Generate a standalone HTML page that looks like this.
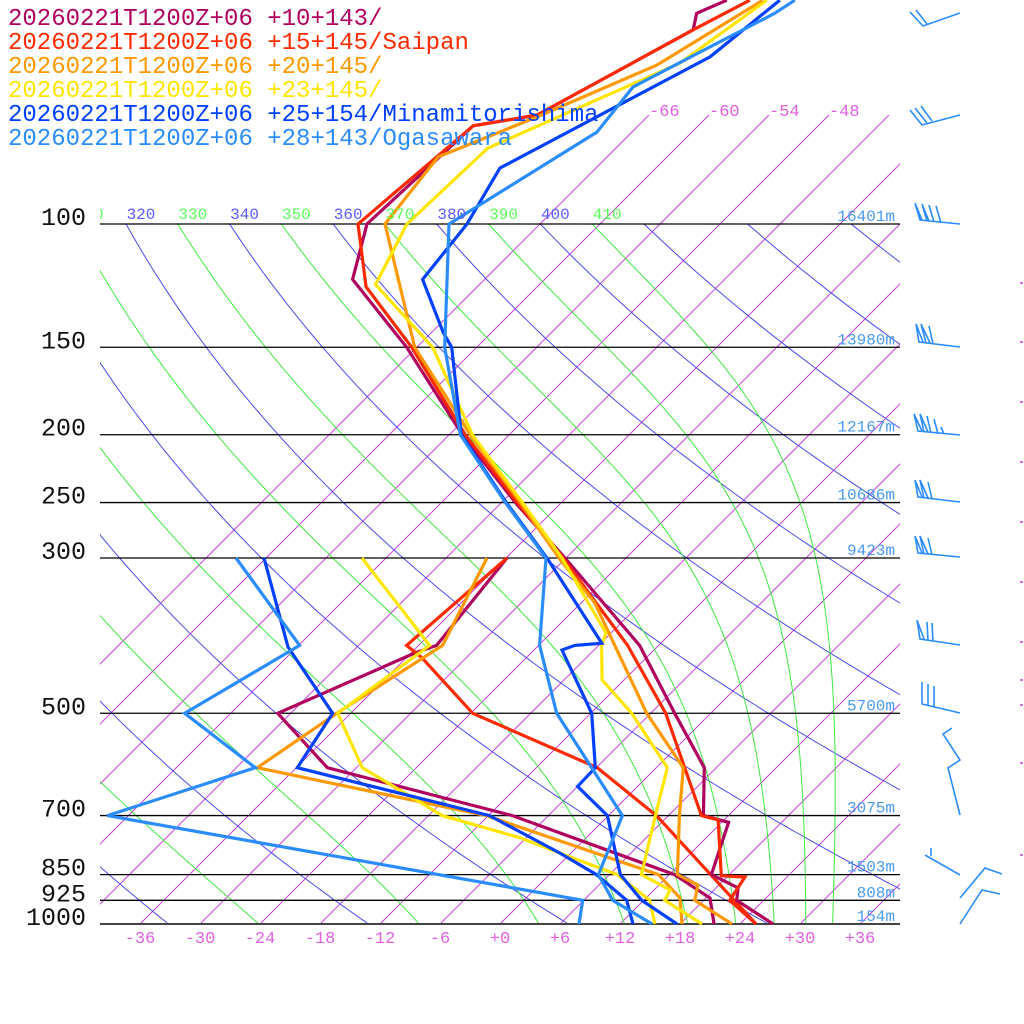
<!DOCTYPE html>
<html><head><meta charset="utf-8">
<style>
html,body{margin:0;padding:0;background:#fff;}
svg{display:block;}
text{font-family:"Liberation Mono",monospace;}
</style></head>
<body>
<svg id="chart" width="1024" height="1024" viewBox="0 0 1024 1024" xmlns="http://www.w3.org/2000/svg">
<defs>
<clipPath id="clipIso"><rect x="100" y="115" width="800" height="809"/></clipPath>
<clipPath id="clipAd"><rect x="100" y="224" width="800" height="700"/></clipPath>
<clipPath id="clipLab"><rect x="100" y="190" width="800" height="40"/></clipPath>
<clipPath id="clipProf"><rect x="0" y="0" width="900" height="925"/></clipPath>
</defs>
<g id="grid"></g>
<g id="profiles" clip-path="url(#clipProf)"></g>
<g id="labels"></g>
<g id="legend" font-size="24">
<text x="8" y="25" fill="#b0005e">20260221T1200Z+06 +10+143/</text>
<text x="8" y="49" fill="#ff2a00">20260221T1200Z+06 +15+145/Saipan</text>
<text x="8" y="73" fill="#ff9900">20260221T1200Z+06 +20+145/</text>
<text x="8" y="97" fill="#ffe600">20260221T1200Z+06 +23+145/</text>
<text x="8" y="121" fill="#0040ff">20260221T1200Z+06 +25+154/Minamitorishima</text>
<text x="8" y="145" fill="#2a8cff">20260221T1200Z+06 +28+143/Ogasawara</text>
</g>
<g id="barbs" stroke="#2a8cff" stroke-width="1.6" fill="none">
<path d="M960,13 L923,26 L910,12 M927,24 L916,10"/>
<path d="M960,115 L922,125 L910,110 M927,123 L915,108 M932,121 L921,106"/>
<path d="M960,224 L920,220 L915,203 L922,220 M927,221 L922,204 L929,221 M934,222 L929,205 M941,223 L936,206"/>
<path d="M960,347 L919,342 L916,324 L923,342 M926,343 L921,324 L930,343 M933,344 L929,326"/>
<path d="M960,435 L918,431 L914,414 L922,431 M924,432 L920,414 L928,432 M931,433 L927,416 M938,434 L934,419 M944,434 L941,427"/>
<path d="M960,502 L918,497 L915,480 L922,497 M924,498 L920,480 L928,498 M932,499 L928,482"/>
<path d="M960,557 L918,553 L915,536 L922,553 M924,554 L920,536 L928,554 M932,555 L928,538"/>
<path d="M960,645 L920,639 L917,620 L924,639 M928,640 L927,622 M933,641 L932,623"/>
<path d="M960,713 L922,704 L922,682 M928,706 L928,684 M934,707 L934,686"/>
<path d="M952,728 L943,734 L960,760 L948,768 L960,815"/>
<path d="M925,855 L960,875 M931,856 L931,848"/>
<path d="M960,898 L985,868 L1002,874 M960,924 L982,890 L1000,894"/>
</g>
<g id="ticks" stroke="#c040d0" stroke-width="1.5">
<path d="M1020,283h3M1020,342h3M1020,402h3M1020,462h3M1020,522h3M1020,582h3M1020,642h3M1020,680h3M1020,705h3M1020,763h3M1020,855h3"/>
</g>
</svg>
<script>
// ---- data ----
const pressureLevels = [100,150,200,250,300,500,700,850,925,1000];
const pressureLabels = ["100","150","200","250","300","500","700","850","925","1000"];
const heightLabels = ["16401m","13980m","12167m","10686m","9423m","5700m","3075m","1503m","808m","154m"];
const tempTicks = [-36,-30,-24,-18,-12,-6,0,6,12,18,24,30,36];
const tempTickLabels = ["-36","-30","-24","-18","-12","-6","+0","+6","+12","+18","+24","+30","+36"];
const topIsoLabels = [-66,-60,-54,-48];
const dryThetas = [220,240,260,280,300,320,340,360,380,400,420,440,460,480,500];
const moistThetas = [230,250,270,290,310,330,350,370,390,410];
const thetaLabelValues = [310,320,330,340,350,360,370,380,390,400,410];

const s1TempP = [1000,925,888,850,716,700,598,500,400,300,250,200,150,120,100,72.4,69.9,52.8,50,47.9];
const s1TempT = [27.3,21.3,20.2,16.2,12.7,9.5,4.8,-3.6,-13.9,-30.1,-40.6,-52.7,-67,-79.2,-83.3,-82.5,-77.2,-70.1,-71.4,-69.7];
const s1DewP = [1000,918,850,700,598,500,410,400,300];
const s1DewT = [21.4,18.4,12.5,-9.6,-32.9,-43.3,-35.6,-34.2,-35.9];

const s2TempP = [1000,925,857,853,710,700,500,400,300,250,200,150,123,100,72.4,69.9,52.8,47.9];
const s2TempT = [25.6,20.6,19.8,17.3,11.4,9.3,-4.5,-15.1,-30.3,-40.4,-52.4,-66.5,-77.1,-84.2,-82.5,-77.2,-70.1,-67.4];
const s2DewP = [1000,700,598,500,416,400,300];
const s2DewT = [25.6,4.8,-5.9,-23.8,-34.5,-37.2,-35.9];

const s3TempP = [1000,925,880,850,700,598,500,348,300,250,200,150,100,80.2,70.3,59.3,47.9];
const s3TempT = [23.2,17.1,15.9,12.8,7.1,2.7,-6.4,-22.6,-30.7,-40.1,-51.9,-66.2,-81.5,-82.9,-77,-70.2,-66.1];
const s3DewP = [1000,918,850,700,598,500,400,300];
const s3DewT = [18.2,15.4,10.9,-12.2,-39.9,-37.4,-33.6,-37.9];

const s4TempP = [1000,925,894,850,700,598,500,448,400,384,300,250,200,150,122,100,77.9,58.9,47.9];
const s4TempT = [20.2,14.1,13.6,9.2,4.7,1.1,-7.9,-14.2,-17.7,-18.5,-30.4,-39.9,-51.7,-64.4,-76.4,-79.3,-78.8,-68.1,-65.7];
const s4DewP = [1000,925,850,792,753,700,598,500,400,300];
const s4DewT = [15.5,12.6,6.8,-1.1,-6.6,-16.6,-29.4,-37.3,-34.9,-50.4];

const s5TempP = [1000,925,850,700,636,598,500,406,400,397,300,250,200,150,143,120,100,83.2,57.7,47.9];
const s5TempT = [17.7,11.8,7.1,-0.1,-6.0,-6.1,-11.9,-21.2,-20.4,-17.9,-31.9,-41.5,-52.8,-62.5,-64.8,-72.2,-73.3,-75.6,-65.7,-64.4];
const s5DewP = [1000,925,850,792,700,598,500,402,300];
const s5DewT = [13.3,10.3,4.7,-1.1,-11.9,-35.9,-37.8,-48.9,-60.2];

const s6TempP = [1000,925,850,700,500,400,300,250,200,150,100,73.9,63.7,50,47.9];
const s6TempT = [15.2,8.9,4.9,1.4,-15.4,-23.9,-32.0,-41.6,-52.9,-63.2,-75.1,-69.5,-70.4,-63.6,-62.9];
const s6DewP = [1000,925,700,598,500,400,300];
const s6DewT = [7.9,5.9,-50.1,-40.1,-52.6,-47.9,-63.0];

// ---- axes ----
const NS = "http://www.w3.org/2000/svg";
function yP(p){ return 224 + 700*Math.log10(p/100); }
function xT(t,p){ const y=yP(p); return 500 + 10*t + (924 - y); }
function mk(tag, attrs, parent){ const e=document.createElementNS(NS,tag); for(const k in attrs) e.setAttribute(k,attrs[k]); parent.appendChild(e); return e; }

const grid = document.getElementById('grid');
const labels = document.getElementById('labels');
const prof = document.getElementById('profiles');

// isotherms
const isoG = mk('g',{'clip-path':'url(#clipIso)'},grid);
for(let t=-66;t<=36;t+=6){
  const x1 = 500+10*t, y1 = 924;
  const y2 = 115, x2 = x1 + (924-115);
  const l = mk('line',{x1:x1,y1:y1,x2:x2,y2:y2,stroke:'#cc44dd','stroke-width':1},isoG);
  
  
}
// dry adiabats
const adG = mk('g',{'clip-path':'url(#clipAd)'},grid);
dryThetas.forEach(th=>{
  let d='';
  for(let p=100;p<=1000;p+=5){
    const t = th*Math.pow(p/1000,0.2857)-273.15;
    d += (p===100?'M':'L')+xT(t,p).toFixed(1)+','+yP(p).toFixed(1);
  }
  const e = mk('path',{d:d,fill:'none',stroke:'#4a4af0','stroke-width':1},adG);
  
  
});
// moist adiabats
function moistPath(th){
  const Rd=287,cp=1005,Lv=2.5e6,eps=0.622;
  let T = th*Math.pow(0.1,0.2857);
  let d = 'M'+xT(T-273.15,100).toFixed(1)+','+yP(100).toFixed(1);
  for(let p=100;p<1000;p+=2){
    const tc=T-273.15;
    const es=6.112*Math.exp(17.67*tc/(tc+243.5));
    const rs=eps*es/Math.max(p-es,1);
    const dTdp=(Rd*T+Lv*rs)/(p*(cp+Lv*Lv*rs*eps/(Rd*T*T)));
    T += dTdp*2;
    d += 'L'+xT(T-273.15,p+2).toFixed(1)+','+yP(p+2).toFixed(1);
  }
  return d;
}
moistThetas.forEach(th=>{
  const e = mk('path',{d:moistPath(th),fill:'none',stroke:'#40e840','stroke-width':1},adG);
  
  
});
// theta labels
const labG = mk('g',{'clip-path':'url(#clipLab)'},labels);
thetaLabelValues.forEach((th,i)=>{
  const x = xT(th*Math.pow(0.1,0.2857)-273.15,100)+15;
  const e = mk('text',{x:x,y:219,'font-size':16,'text-anchor':'middle',fill:(th%20===0?'#5a5aff':'#5aff5a')},labG);
  e.textContent = String(th);
  
  
});
// pressure lines
pressureLevels.forEach((p,i)=>{
  const y=yP(p);
  const l=mk('line',{x1:100,x2:900,y1:y,y2:y,stroke:(p===1000?'#444':'#000'),'stroke-width':(p===1000?2:1.3)},grid);
  
  
  const t=mk('text',{x:86,y:y+1,'font-size':25,'text-anchor':'end',fill:'#111'},labels);
  t.textContent=pressureLabels[i];
  
  
  const h=mk('text',{x:895,y:y-3,'font-size':16,'text-anchor':'end',fill:'#4a9af0'},labels);
  h.textContent=heightLabels[i];
  
  
});
// temperature ticks
tempTicks.forEach((t,i)=>{
  const e=mk('text',{x:xT(t,1000),y:943,'font-size':17,'text-anchor':'middle',fill:'#e060e0'},labels);
  e.textContent=tempTickLabels[i];
  
  
});
topIsoLabels.forEach(t=>{
  const x = 500+10*t+(924-115);
  const e=mk('text',{x:x,y:116,'font-size':17,fill:'#e060e0'},labels);
  e.textContent=String(t);
  
  
});
// profiles
const seriesList = [
  [s1TempP,s1TempT,s1DewP,s1DewT,'#b0005e'],
  [s2TempP,s2TempT,s2DewP,s2DewT,'#ff2a00'],
  [s3TempP,s3TempT,s3DewP,s3DewT,'#ff9900'],
  [s4TempP,s4TempT,s4DewP,s4DewT,'#ffe600'],
  [s5TempP,s5TempT,s5DewP,s5DewT,'#0040ff'],
  [s6TempP,s6TempT,s6DewP,s6DewT,'#2a8cff']
];
function linePath(ps,ts){ return ps.map((p,i)=>(i?'L':'M')+xT(ts[i],p).toFixed(1)+','+yP(p).toFixed(1)).join(''); }
seriesList.forEach((s,i)=>{
  const a=mk('path',{d:linePath(s[2],s[3]),fill:'none',stroke:s[4],'stroke-width':3.2,'stroke-linejoin':'miter'},prof);
  
  
});
seriesList.forEach((s,i)=>{
  const b=mk('path',{d:linePath(s[0],s[1]),fill:'none',stroke:s[4],'stroke-width':3.2,'stroke-linejoin':'miter'},prof);
  
  
});
</script>
</body></html>
